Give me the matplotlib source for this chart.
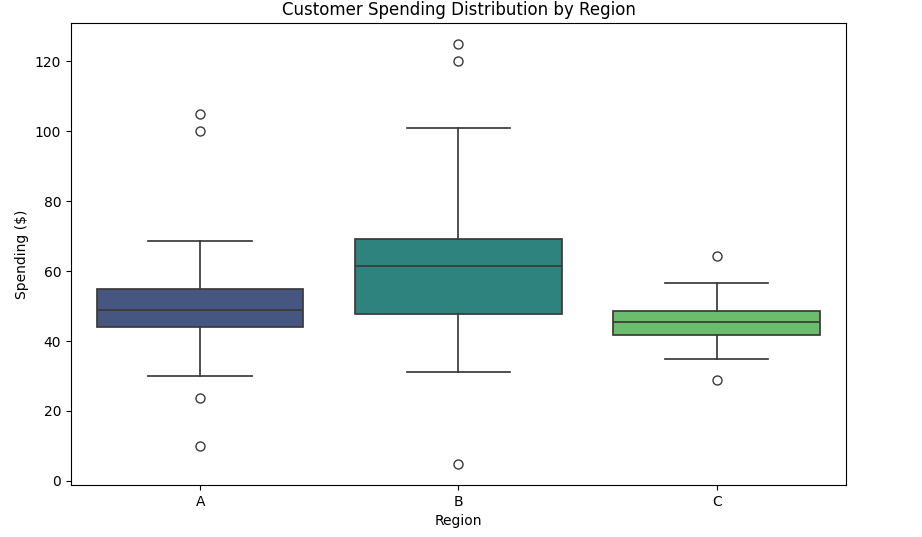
import matplotlib
matplotlib.use("Agg")
import matplotlib.pyplot as plt
import seaborn as sns

regions = ["A", "B", "C"]
q1 = [44.0, 47.7, 41.7]
medians = [48.9, 61.4, 45.4]
q3 = [54.9, 69.1, 48.6]
whisker_low = [30.0, 31.1, 34.9]
whisker_high = [68.6, 100.9, 56.6]
outliers = [[105, 100, 23.7, 10], [125, 120, 4.9], [64.3, 28.9]]

# seaborn-style viridis palette, desaturated like sns.boxplot does
colors = [sns.desaturate(c, 0.75) for c in sns.color_palette("viridis", 3)]
line_color = "#3a3a3a"

stats = []
for i, name in enumerate(regions):
    stats.append({
        "label": name,
        "q1": q1[i], "med": medians[i], "q3": q3[i],
        "whislo": whisker_low[i], "whishi": whisker_high[i],
        "fliers": outliers[i],
    })

fig, ax = plt.subplots(figsize=(9.22, 5.37), dpi=100)
fig.subplots_adjust(left=0.077, right=0.9175, top=0.957, bottom=0.097)

bp = ax.bxp(stats, positions=range(len(regions)), widths=0.8, capwidths=0.4,
            patch_artist=True,
            boxprops=dict(edgecolor=line_color, linewidth=1.25),
            medianprops=dict(color=line_color, linewidth=1.25),
            whiskerprops=dict(color=line_color, linewidth=1.25),
            capprops=dict(color=line_color, linewidth=1.25),
            flierprops=dict(marker="o", markerfacecolor="none",
                            markeredgecolor=line_color, markersize=6.5,
                            markeredgewidth=1.0))
for patch, c in zip(bp["boxes"], colors):
    patch.set_facecolor(c)

ax.set_xlim(-0.5, 2.5)
ax.set_ylim(-1.14, 130.9)
ax.set_xticks(range(len(regions)))
ax.set_xticklabels(regions)
ax.set_title("Customer Spending Distribution by Region")
ax.set_xlabel("Region")
ax.set_ylabel("Spending ($)")

fig.savefig("out.png")
